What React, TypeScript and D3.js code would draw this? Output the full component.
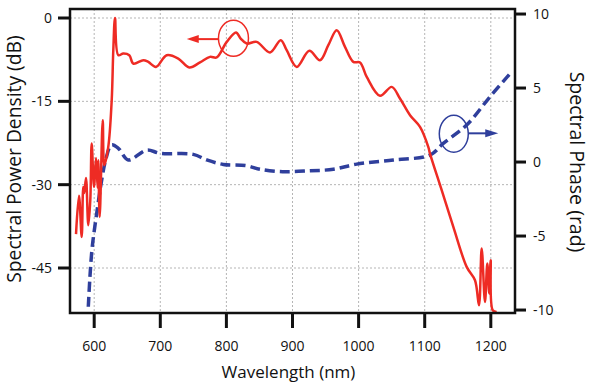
import React from "react";
import * as d3 from "d3";

// spectral power density (dB) vs wavelength (nm)
const powerWl = [
  572.5, 577.0, 581.1, 583.5, 585.0, 587.6, 591.1, 594.1, 596.2, 599.7, 602.7, 605.3, 606.2, 608.3,
  612.9, 615.3, 621.3, 626.5, 628.9, 631.5, 636.5, 644.0, 653.1, 659.2, 674.3, 681.8, 693.5, 709.7,
  727.2, 743.9, 760.1, 775.2, 785.3, 800.5, 814.5, 821.6, 830.7, 845.8, 866.0, 882.2, 891.2, 906.4,
  925.4, 941.6, 954.2, 966.9, 979.4, 992.0, 1002.1, 1012.3, 1032.4, 1050.1, 1062.6, 1077.8, 1092.9,
  1105.4, 1108.0, 1125.7, 1143.3, 1163.5, 1176.1, 1182.1, 1186.2, 1191.2, 1194.7, 1197.7, 1199.8,
  1202.9, 1208.9,
];
const powerDb = [
  -38.9, -32.0, -39.4, -30.4, -31.5, -28.8, -37.3, -32.8, -22.6, -30.4, -25.2, -30.6, -25.6, -35.8,
  -18.4, -26.5, -23.2, -14.8, -5.8, 0.0, -6.7, -6.4, -6.7, -8.2, -7.6, -7.9, -8.8, -6.7,
  -7.3, -8.9, -8.0, -7.0, -7.1, -4.3, -2.6, -3.7, -4.6, -4.3, -6.2, -4.0, -5.8, -8.8,
  -5.9, -7.6, -4.9, -2.2, -5.2, -7.9, -8.0, -10.6, -14.0, -12.4, -14.5, -17.5, -19.6,
  -23.2, -24.4, -31.0, -37.6, -44.8, -47.2, -51.7, -41.5, -51.1, -44.2, -49.6, -43.6,
  -52.6, -52.9,
];

// spectral phase (rad) vs wavelength (nm)
const phaseWl = [
  591.1, 593.6, 597.1, 603.8, 611.3, 617.4, 626.0, 636.5, 651.6, 679.4, 699.5, 749.9, 770.2,
  795.3, 830.7, 850.8, 885.0, 926.5, 961.7, 997.1, 1052.5, 1108.0, 1128.1, 1163.5, 1198.8, 1231.6,
];
const phaseRad = [
  -9.78, -7.75, -5.72, -3.47, -1.22, 0.14, 1.15, 0.93, 0.14, 0.81, 0.59, 0.52, 0.14,
  -0.16, -0.25, -0.49, -0.65, -0.59, -0.49, -0.14, 0.14, 0.47, 1.26, 2.5, 4.41, 6.1,
];

const xTicks = [600, 700, 800, 900, 1000, 1100, 1200];
const dbTicks = [0, -15, -30, -45];
const radTicks = [10, 5, 0, -5, -10];

const W = 596;
const H = 385;
const left = 70;
const right = 515;
const top = 9;
const bottom = 313;

const RED = "#ee2b24";
const BLUE = "#2f3f9c";
const FONT = "'Open Sans', sans-serif";

export default function App() {
  const x = d3.scaleLinear().domain([563.4, 1236.6]).range([left, right]);
  const yDb = d3.scaleLinear().domain([-53.1, 1.62]).range([bottom, top]);
  const yRad = d3.scaleLinear().domain([-10.2, 10.34]).range([bottom, top]);

  const powerLine = d3
    .line<number>()
    .x((d, i) => x(powerWl[i]))
    .y((d) => yDb(d))
    .curve(d3.curveCatmullRom.alpha(0.5));
  const phaseLine = d3
    .line<number>()
    .x((d, i) => x(phaseWl[i]))
    .y((d) => yRad(d))
    .curve(d3.curveCatmullRom.alpha(0.5));

  // annotation anchors (data coords)
  const redC = { x: x(810.7), y: yDb(-3.65) };
  const redTip = { x: x(740), y: yDb(-3.8) };
  const blueC = { x: x(1144), y: yRad(1.91) };
  const blueTip = { x: x(1211.3), y: yRad(1.94) };

  return (
    <svg
      width={W}
      height={H}
      style={{ position: "absolute", left: 0, top: 0, background: "#fff" }}
      fontFamily={FONT}
    >
      <defs>
        <clipPath id="plot">
          <rect x={left} y={top} width={right - left} height={bottom - top} />
        </clipPath>
      </defs>

      {/* grid */}
      <g stroke="#b5b5b5" strokeWidth={1} strokeDasharray="2,2">
        {xTicks.map((t) => (
          <line key={t} x1={x(t)} x2={x(t)} y1={top} y2={bottom} />
        ))}
        {dbTicks.map((t) => (
          <line key={t} x1={left} x2={right} y1={yDb(t)} y2={yDb(t)} />
        ))}
      </g>

      {/* curves */}
      <g clipPath="url(#plot)">
        <path
          d={phaseLine(phaseRad) || ""}
          fill="none"
          stroke={BLUE}
          strokeWidth={3.5}
          strokeDasharray="10,5"
        />
        <path d={powerLine(powerDb) || ""} fill="none" stroke={RED} strokeWidth={2.5} strokeLinejoin="round" />
      </g>

      {/* annotations */}
      <ellipse cx={redC.x} cy={redC.y} rx={15} ry={18} fill="none" stroke={RED} strokeWidth={1.5} />
      <line x1={redC.x - 15} y1={redTip.y} x2={redTip.x + 10} y2={redTip.y} stroke={RED} strokeWidth={2} />
      <path d={`M${redTip.x},${redTip.y} l12,-4 l0,8 z`} fill={RED} />
      <ellipse cx={blueC.x} cy={blueC.y} rx={14.5} ry={18.5} fill="none" stroke={BLUE} strokeWidth={1.5} />
      <line x1={blueC.x + 14.5} y1={blueTip.y} x2={blueTip.x - 10} y2={blueTip.y} stroke={BLUE} strokeWidth={2} />
      <path d={`M${blueTip.x},${blueTip.y} l-13,-4 l0,8 z`} fill={BLUE} />

      {/* frame */}
      <rect x={left} y={top} width={right - left} height={bottom - top} fill="none" stroke="#111" strokeWidth={2.5} />

      {/* bottom axis */}
      <g>
        {xTicks.map((t) => (
          <g key={t}>
            <line x1={x(t)} x2={x(t)} y1={bottom} y2={328} stroke="#111" strokeWidth={3} />
            <text x={x(t)} y={351} textAnchor="middle" fontSize={14} fill="#111">
              {t}
            </text>
          </g>
        ))}
        <text x={(left + right) / 2 - 4} y={378} textAnchor="middle" fontSize={17} fill="#111">
          Wavelength (nm)
        </text>
      </g>

      {/* left axis */}
      <g>
        {dbTicks.map((t) => (
          <g key={t}>
            <line x1={58} x2={left} y1={yDb(t)} y2={yDb(t)} stroke="#111" strokeWidth={3} />
            <text x={52} y={yDb(t) + 5} textAnchor="end" fontSize={14} fill="#111">
              {t}
            </text>
          </g>
        ))}
        <text
          transform={`translate(21,159) rotate(-90)`}
          textAnchor="middle"
          fontSize={19.3}
          fill="#111"
        >
          Spectral Power Density (dB)
        </text>
      </g>

      {/* right axis */}
      <g>
        {radTicks.map((t) => (
          <g key={t}>
            <line x1={right} x2={526} y1={yRad(t)} y2={yRad(t)} stroke="#111" strokeWidth={3} />
            <text x={533} y={yRad(t) + 5} textAnchor="start" fontSize={14} fill="#111">
              {t}
            </text>
          </g>
        ))}
        <text
          transform={`translate(570,162) rotate(90)`}
          textAnchor="middle"
          fontSize={19.5}
          fill="#111"
        >
          Spectral Phase (rad)
        </text>
      </g>
    </svg>
  );
}
